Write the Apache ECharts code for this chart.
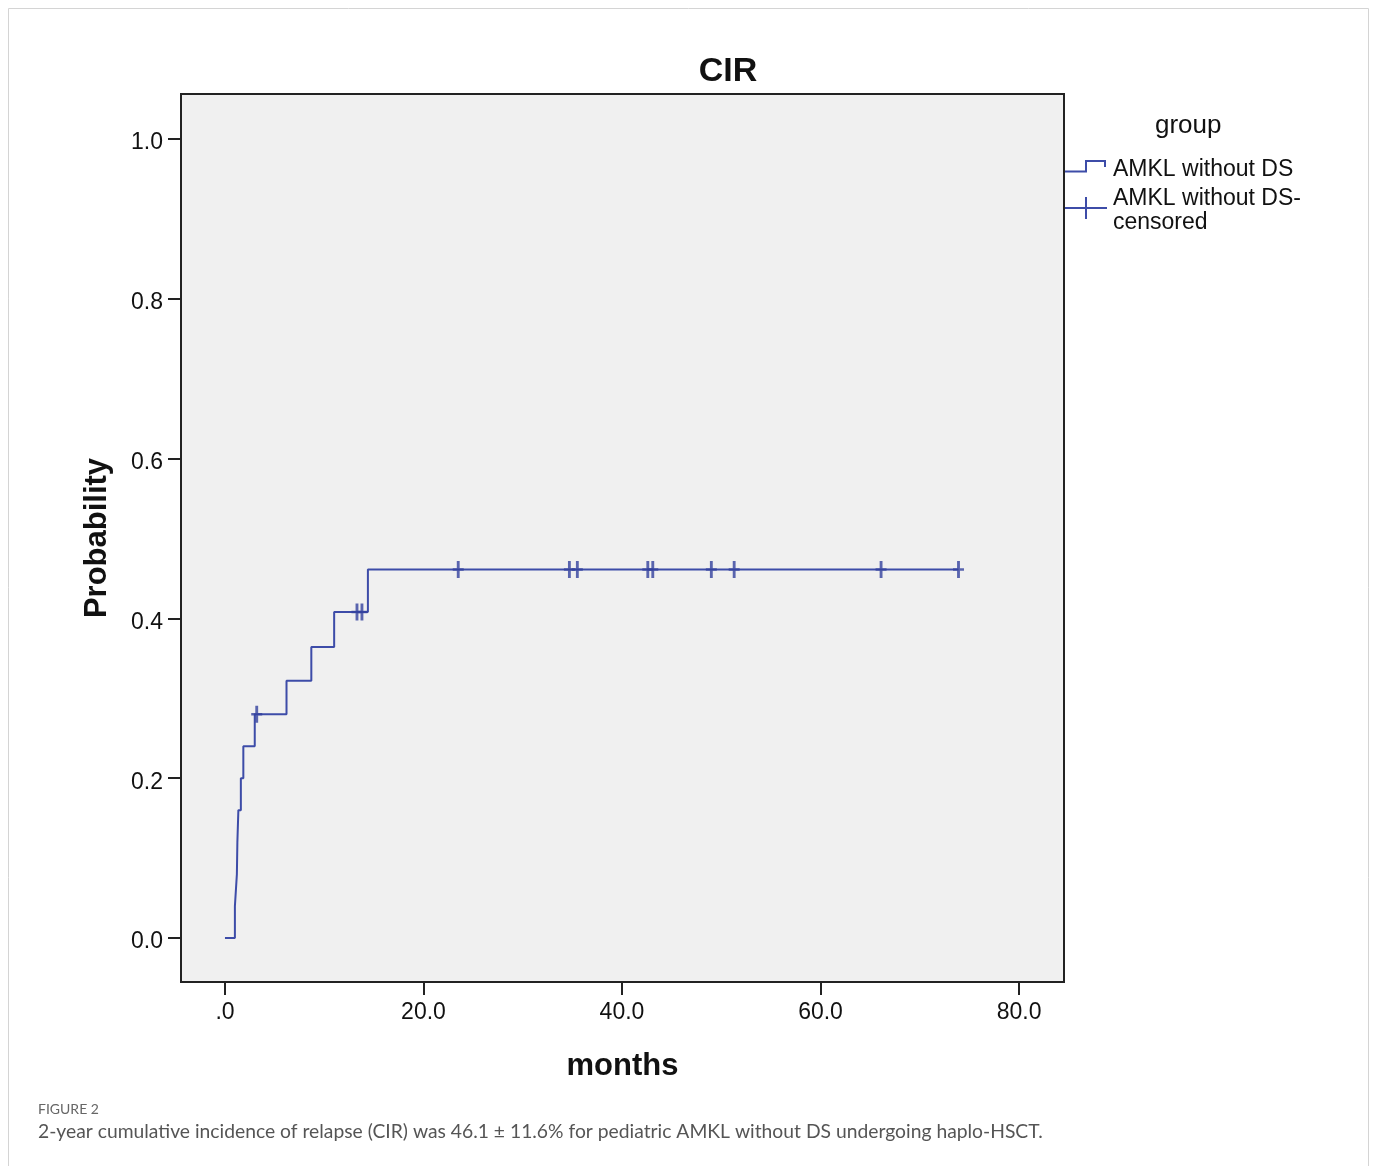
<!DOCTYPE html>
<html>
<head>
<meta charset="utf-8">
<title>CIR</title>
<script src="https://cdn.jsdelivr.net/npm/echarts@6/dist/echarts.min.js"></script>
<style>
    html, body { margin: 0; padding: 0; background: #fff; }
    #main { width: 1375px; height: 1166px; }
</style>
</head>
<body>
<div id="main"></div>
<script>
// step curve: time (months) at which the cumulative incidence jumps, and the new level
var stepTimes = [0, 1.0, 1.2, 1.25, 1.35, 1.6, 1.85, 3.0, 6.2, 8.7, 11.0, 14.4, 73.9];
var stepProbs = [0, 0.04, 0.08, 0.12, 0.16, 0.20, 0.24, 0.28, 0.322, 0.364, 0.408, 0.461, 0.461];

// censored observations
var censoredTimes = [3.2, 13.3, 13.8, 23.5, 34.7, 35.5, 42.6, 43.1, 49.0, 51.3, 66.1, 73.9];
var censoredProbs = [0.28, 0.408, 0.408, 0.461, 0.461, 0.461, 0.461, 0.461, 0.461, 0.461, 0.461, 0.461];

var xTicks = [0, 20, 40, 60, 80];
var xTickLabels = ['.0', '20.0', '40.0', '60.0', '80.0'];
var yTicks = [0, 0.2, 0.4, 0.6, 0.8, 1.0];
var yTickLabels = ['0.0', '0.2', '0.4', '0.6', '0.8', '1.0'];

var lineColor = '#3d4ca8';
var font = 'Liberation Sans';

var curveData = [];
for (var i = 0; i < stepTimes.length; i++) {
    curveData.push([stepTimes[i], stepProbs[i]]);
}
var censData = [];
for (var j = 0; j < censoredTimes.length; j++) {
    censData.push([censoredTimes[j], censoredProbs[j]]);
}

function tickLabel(ticks, labels, rich) {
    return function (v) {
        for (var k = 0; k < ticks.length; k++) {
            if (Math.abs(ticks[k] - v) < 1e-6) return rich ? '{t|' + labels[k] + '}' : labels[k];
        }
        return '';
    };
}

// "+" mark for censored cases
var plusSymbol = 'path://M3.7,0h2.6v6.8h3.7v2.4h-3.7v6.8h-2.6v-6.8h-3.7v-2.4h3.7z';

var myChart = echarts.init(document.getElementById('main'));

var option = {
    backgroundColor: '#fff',
    animation: false,
    title: {
        text: 'CIR',
        left: 723,
        top: 50,
        textAlign: 'center',
        textStyle: { fontFamily: font, fontSize: 34, fontWeight: 'bold', color: '#111' }
    },
    grid: {
        left: 181,
        top: 94,
        right: 311,
        bottom: 184,
        show: true,
        backgroundColor: '#f0f0f0',
        borderColor: '#222',
        borderWidth: 2
    },
    xAxis: {
        type: 'value',
        min: -4.43,
        max: 84.53,
        name: 'months',
        nameLocation: 'middle',
        nameGap: 69,
        nameTextStyle: { fontFamily: font, fontSize: 31, fontWeight: 'bold', color: '#111' },
        axisLine: { show: true, onZero: false, lineStyle: { color: '#222', width: 2 } },
        axisTick: { show: true, length: 13, customValues: xTicks, lineStyle: { color: '#222', width: 2 } },
        axisLabel: {
            customValues: xTicks,
            margin: 19,
            fontFamily: font,
            fontSize: 23,
            color: '#111',
            formatter: tickLabel(xTicks, xTickLabels, false)
        },
        splitLine: { show: false }
    },
    yAxis: {
        type: 'value',
        min: -0.055,
        max: 1.056,
        name: 'Probability',
        nameLocation: 'middle',
        nameGap: 68,
        nameTextStyle: { fontFamily: font, fontSize: 31, fontWeight: 'bold', color: '#111' },
        axisLine: { show: true, onZero: false, lineStyle: { color: '#222', width: 2 } },
        axisTick: { show: true, length: 13, customValues: yTicks, lineStyle: { color: '#222', width: 2 } },
        axisLabel: {
            customValues: yTicks,
            margin: 18,
            formatter: tickLabel(yTicks, yTickLabels, true),
            rich: {
                t: { fontFamily: font, fontSize: 23, color: '#111', padding: [8, 0, 0, 0] }
            }
        },
        splitLine: { show: false }
    },
    series: [
        {
            name: 'AMKL without DS',
            type: 'line',
            step: 'end',
            symbol: 'none',
            lineStyle: { color: lineColor, width: 2 },
            data: curveData
        },
        {
            name: 'AMKL without DS-censored',
            type: 'scatter',
            symbol: plusSymbol,
            symbolSize: [11, 17],
            itemStyle: { color: '#33419e' },
            z: 3,
            data: censData
        }
    ],
    graphic: [
        {
            type: 'rect',
            silent: true,
            shape: { x: 8.5, y: 8.5, width: 1360, height: 1180 },
            style: { fill: null, stroke: '#d4d4d4', lineWidth: 1 }
        },
        // legend
        {
            type: 'text',
            left: 1155,
            top: 113,
            style: { text: 'group', font: '26px "Liberation Sans"', fill: '#111' }
        },
        {
            type: 'polyline',
            shape: { points: [[1065, 171.5], [1086, 171.5], [1086, 161], [1105, 161], [1105, 167]] },
            style: { stroke: lineColor, lineWidth: 2, fill: null }
        },
        {
            type: 'text',
            left: 1113,
            top: 158,
            style: { text: 'AMKL without DS', font: '23px "Liberation Sans"', fill: '#111' }
        },
        {
            type: 'line',
            shape: { x1: 1065, y1: 208, x2: 1107, y2: 208 },
            style: { stroke: lineColor, lineWidth: 2 }
        },
        {
            type: 'line',
            shape: { x1: 1086, y1: 197, x2: 1086, y2: 219 },
            style: { stroke: lineColor, lineWidth: 2 }
        },
        {
            type: 'text',
            left: 1113,
            top: 187,
            style: { text: 'AMKL without DS-\ncensored', font: '23px "Liberation Sans"', lineHeight: 24, fill: '#111' }
        },
        // caption
        {
            type: 'text',
            left: 38,
            top: 1102,
            style: { text: 'FIGURE 2', font: '14px Lato', fill: '#666' }
        },
        {
            type: 'text',
            left: 38,
            top: 1122,
            style: {
                text: '2-year cumulative incidence of relapse (CIR) was 46.1 \u00b1 11.6% for pediatric AMKL without DS undergoing haplo-HSCT.',
                font: '19.3px Lato',
                fill: '#555'
            }
        }
    ]
};

myChart.setOption(option);
</script>
</body>
</html>
